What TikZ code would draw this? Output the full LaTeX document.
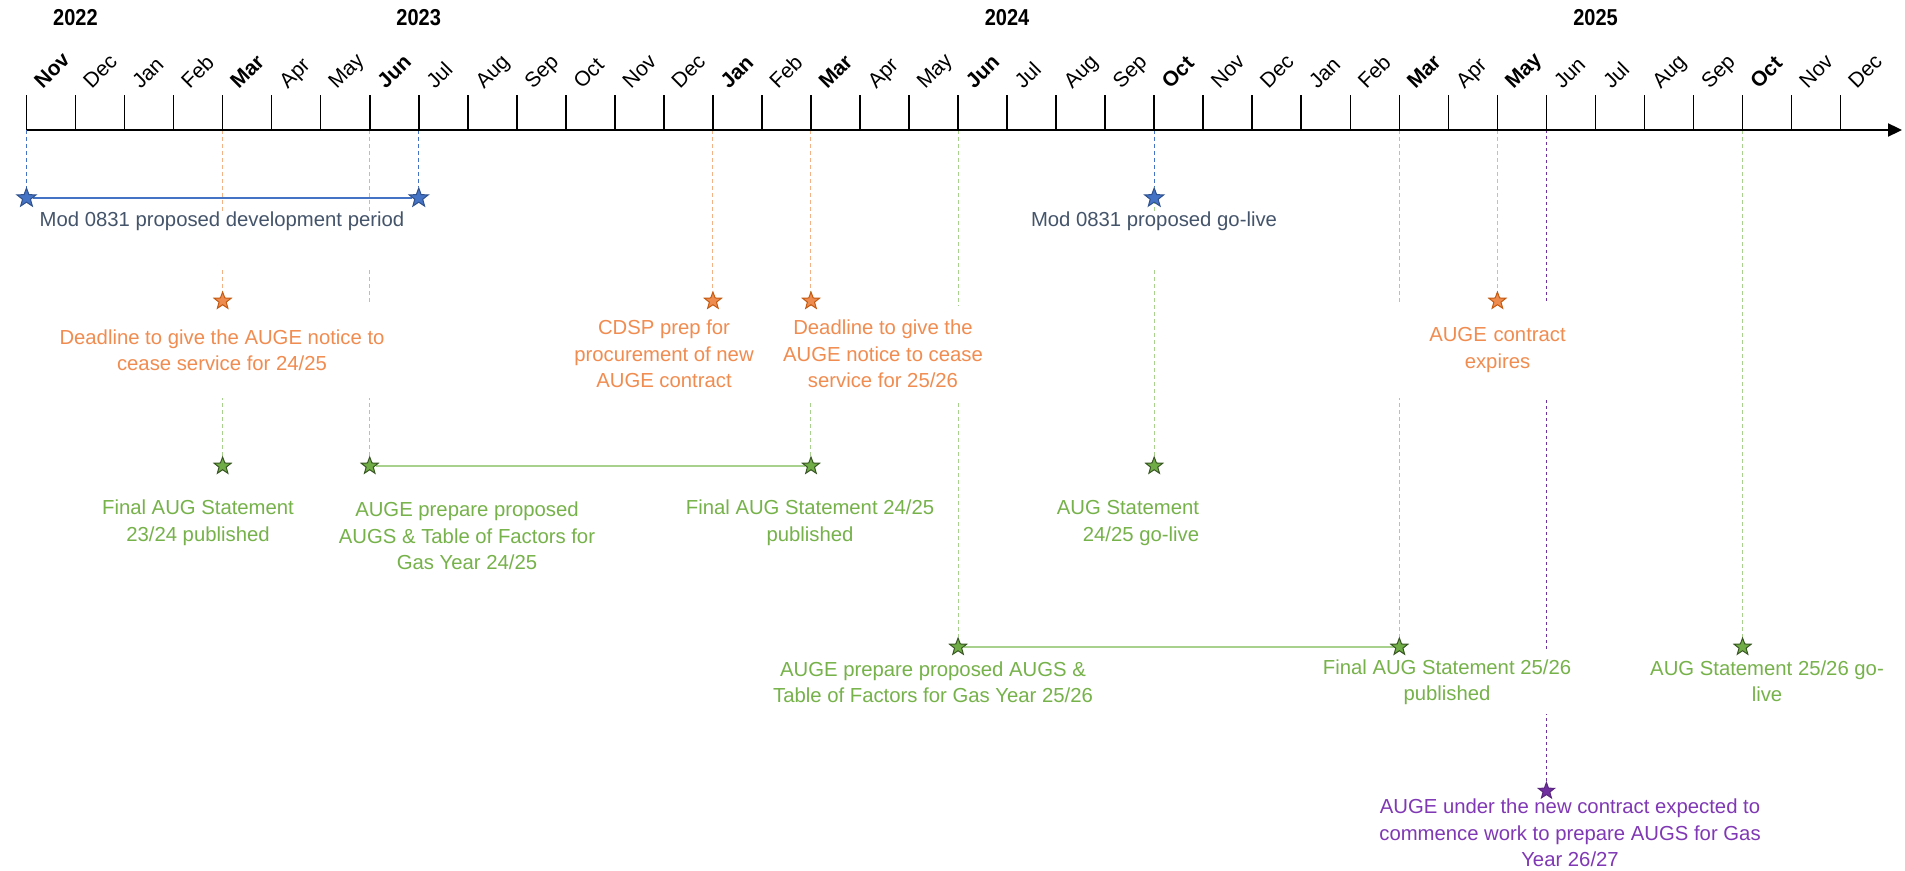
\documentclass[tikz,border=0pt]{standalone}
\usepackage{fontspec}
\setmainfont{Liberation Sans}
\newfontfamily\yearfont{Liberation Sans}[FakeStretch=0.87]
\usetikzlibrary{shapes.geometric,arrows.meta,backgrounds}

\definecolor{augblue}{RGB}{68,114,196}
\definecolor{augbluedk}{RGB}{47,82,143}
\definecolor{bluetxt}{RGB}{68,84,106}
\definecolor{orgline}{RGB}{244,177,131}
\definecolor{orgfill}{RGB}{238,140,80}
\definecolor{orgdk}{RGB}{197,90,17}
\definecolor{orgtxt}{RGB}{241,140,80}
\definecolor{grnline}{RGB}{169,209,142}
\definecolor{grnfill}{RGB}{112,173,71}
\definecolor{grndk}{RGB}{56,87,35}
\definecolor{grntxt}{RGB}{118,178,74}
\definecolor{purp}{RGB}{112,48,160}
\definecolor{purptxt}{RGB}{128,56,180}

\begin{document}
\begin{tikzpicture}[x=0.5pt,y=-0.5pt,
	tick/.style={line width=0.8pt,black},
	month/.style={anchor=base west,rotate=45,inner sep=0pt,font=\fontsize{10.5}{12}\selectfont},
	year/.style={font=\yearfont\bfseries\fontsize{11.5}{13}\selectfont},
	ev/.style={star,star points=5,star point ratio=2.4,inner sep=0pt,line width=0.5pt},
	bstar/.style={ev,minimum size=10pt,fill=augblue,draw=augbluedk},
	ostar/.style={ev,minimum size=9pt,fill=orgfill,draw=orgdk},
	gstar/.style={ev,minimum size=9pt,fill=grnfill,draw=grndk},
	pstar/.style={ev,minimum size=8.5pt,fill=purp,draw=purp!80!black},
	lbl/.style={align=center,fill=white,inner sep=0pt,font=\fontsize{10.15}{13.25}\selectfont},
	blbl/.style={lbl,text=bluetxt,anchor=base,text height=8pt,text depth=21.5pt},
	olbl/.style={lbl,text=orgtxt,minimum height=48pt},
	glbl/.style={lbl,text=grntxt},
	plbl/.style={lbl,text=purptxt},
	bdash/.style={augblue,line width=0.5pt,dash pattern=on 2pt off 1.5pt},
	odash/.style={orgline,line width=0.5pt,dash pattern=on 2pt off 1.5pt},
	gdash/.style={grnline,line width=0.5pt,dash pattern=on 2pt off 1.5pt},
	pdash/.style={purp,line width=0.9pt,dash pattern=on 1.5pt off 1.5pt},
	span/.style={line width=0.75pt}
	]
	\useasboundingbox (0,0) rectangle (1905,871);

	% time axis
	\coordinate (rowb) at (0,198);
	\coordinate (rowo) at (0,301);
	\coordinate (rowg) at (0,466);
	\coordinate (rowh) at (0,647);
	\coordinate (rowp) at (0,791);
	\draw[line width=1.1pt,-{Triangle[length=7pt,width=6.5pt]}] (26.5,130) coordinate (start) -- (1902,130) coordinate (tip);
	\foreach \mon [count=\i from 0] in {\textbf{Nov},Dec,Jan,Feb,\textbf{Mar},Apr,May,\textbf{Jun},Jul,Aug,Sep,Oct,Nov,Dec,\textbf{Jan},Feb,\textbf{Mar},Apr,May,\textbf{Jun},Jul,Aug,Sep,\textbf{Oct},Nov,Dec,Jan,Feb,\textbf{Mar},Apr,\textbf{May},Jun,Jul,Aug,Sep,\textbf{Oct},Nov,Dec}{
		\coordinate (m\i) at ({26.5+\i*49.03},130);
		\draw[tick] (m\i) --++(0,-35) coordinate (t\i);
		\node[month] (mon\i) at ({26.5+\i*49.03+16},90) {\mon};
	}
	\node[year] (y22) at (75.5,18) {2022};
	\node[year] (y23) at (418.7,18) {2023};
	\node[year] (y24) at (1007.1,18) {2024};
	\node[year] (y25) at (1595.5,18) {2025};

	% labels
	\node[blbl] (devlbl) at (222,227) {Mod 0831 proposed development period};
	\node[blbl] (livelbl) at (1154,227) {Mod 0831 proposed go-live};
	\node[olbl] (dl1lbl) at (222,350) {Deadline to give the AUGE notice to\\cease service for 24/25};
	\node[olbl] (cdsplbl) at (664,354) {CDSP prep for\\procurement of new\\AUGE contract};
	\node[olbl] (dl2lbl) at (883,354) {Deadline to give the\\AUGE notice to cease\\service for 25/26};
	\node[olbl,text width=105pt] (explbl) at (1497.5,350) {AUGE contract\\expires};
	\node[glbl] (fin1lbl) at (198,523) {Final AUG Statement\\23/24 published};
	\node[glbl] (prep1lbl) at (467,536) {AUGE prepare proposed\\AUGS \& Table of Factors for\\Gas Year 24/25};
	\node[glbl] (fin2lbl) at (810,523) {Final AUG Statement 24/25\\published};
	\node[glbl,align=right] (live2lbl) at (1128,523) {AUG Statement\\24/25 go-live};
	\node[glbl] (prep2lbl) at (933,682) {AUGE prepare proposed AUGS \&\\Table of Factors for Gas Year 25/26};
	\node[glbl,minimum height=32pt] (fin3lbl) at (1447,682) {Final AUG Statement 25/26\\published};
	\node[glbl] (live3lbl) at (1767,681) {AUG Statement 25/26 go-\\live};
	\node[plbl] (newlbl) at (1570,833) {AUGE under the new contract expected to\\commence work to prepare AUGS for Gas\\Year 26/27};

	% milestones
	\node[bstar] (dev1) at (m0 |- rowb) {};
	\node[bstar] (dev2) at (m8 |- rowb) {};
	\node[bstar] (live1) at (m23 |- rowb) {};
	\node[ostar] (dl1) at (m4 |- rowo) {};
	\node[ostar] (cdsp) at (m14 |- rowo) {};
	\node[ostar] (dl2) at (m16 |- rowo) {};
	\node[ostar] (exp) at (m30 |- rowo) {};
	\node[gstar] (fin1) at (m4 |- rowg) {};
	\node[gstar] (prep1) at (m7 |- rowg) {};
	\node[gstar] (fin2) at (m16 |- rowg) {};
	\node[gstar] (live2) at (m23 |- rowg) {};
	\node[gstar] (prep2) at (m19 |- rowh) {};
	\node[gstar] (fin3) at (m28 |- rowh) {};
	\node[gstar] (live3) at (m35 |- rowh) {};
	\node[pstar] (new) at (m31 |- rowp) {};

	\begin{scope}[on background layer]
		\draw[gdash] (m4) -- (fin1);
		\draw[gdash] (m7) -- (prep1);
		\draw[gdash] (m16) -- (fin2);
		\draw[gdash] (m23) -- (live2);
		\draw[gdash] (m19) -- (prep2);
		\draw[gdash] (m28) -- (fin3);
		\draw[gdash] (m35) -- (live3);
		\draw[odash] (m4) -- (dl1);
		\draw[odash] (m14) -- (cdsp);
		\draw[odash] (m16) -- (dl2);
		\draw[odash] (m30) -- (exp);
		\draw[bdash] (m0) -- (dev1);
		\draw[bdash] (m8) -- (dev2);
		\draw[bdash] (m23) -- (live1);
		\draw[pdash] (m31) -- (new);
		\draw[span,augblue] (dev1) -- (dev2);
		\draw[span,grnline] (prep1) -- (fin2);
		\draw[span,grnline] (prep2) -- (fin3);
	\end{scope}
\end{tikzpicture}
\end{document}
